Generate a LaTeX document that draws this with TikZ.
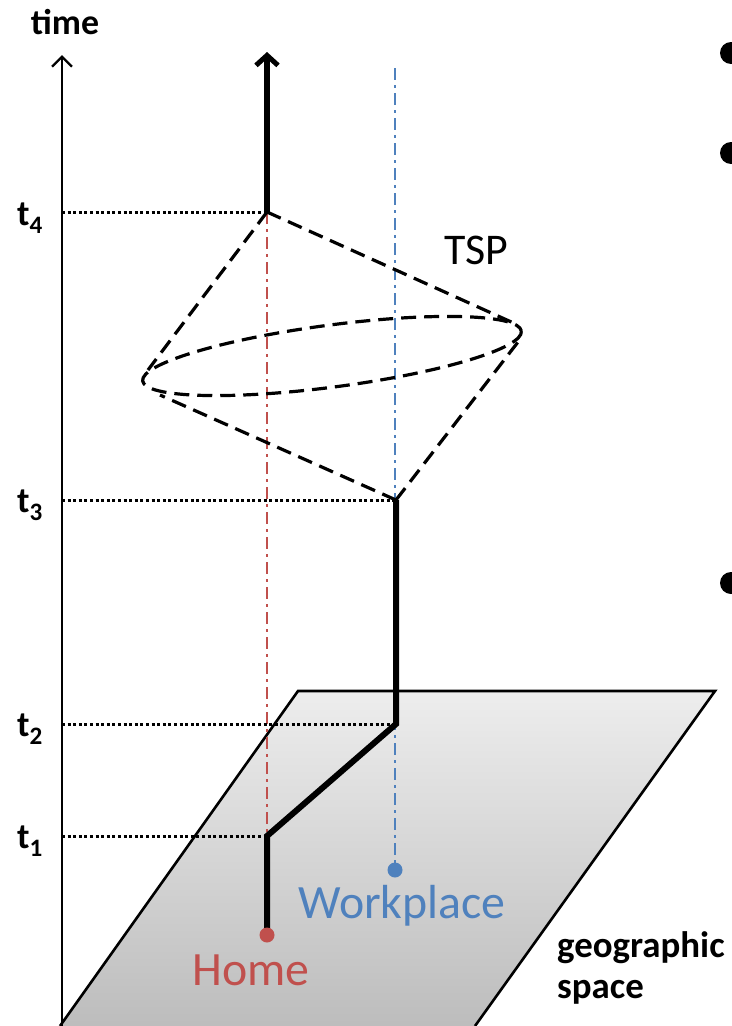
\documentclass[tikz,border=0pt]{standalone}
\usepackage{fontspec}
\setmainfont{Carlito}
\usetikzlibrary{arrows.meta}
\definecolor{homered}{HTML}{C0504D}
\definecolor{workblue}{HTML}{4F81BD}
\tikzset{
  fs/.style={font=\fontsize{#1}{#1}\selectfont},
  bfs/.style={font=\bfseries\fontsize{#1}{#1}\selectfont},
  dotline/.style={line width=3bp, dash pattern=on 3bp off 2.6bp},
  conedash/.style={line width=3.2bp, dash pattern=on 15bp off 8bp},
  homeline/.style={homered, line width=2.6bp, dash pattern=on 12bp off 5bp on 3bp off 5bp},
  workline/.style={workblue, line width=2.6bp, dash pattern=on 12bp off 5bp on 3bp off 5bp},
  pathline/.style={line width=6bp, line join=miter},
  bullet/.style={circle, fill=black, inner sep=0pt, minimum size=22bp},
}
\begin{document}
\begin{tikzpicture}[x=1bp, y=-1bp]
\useasboundingbox (0,0) rectangle (732,1026);
% geographic plane
\coordinate (pTL) at (298,691);
\coordinate (pTR) at (715,691);
\coordinate (pBR) at (475,1026);
\coordinate (pBL) at (60,1026);
\shade[top color=black!7, bottom color=black!26] (pTL) -- (pTR) -- (pBR) -- (pBL) -- cycle;
\draw[line width=2.6bp, line join=miter] (pBL) -- (pTL) -- (pTR) -- (pBR);
% time axis
\coordinate (axB) at (62,1026);
\coordinate (axT) at (62,55);
\draw[line width=2.4bp, -{Straight Barb[length=10bp, width=20bp, line width=2.4bp]}] (axB) -- (axT);
\node[bfs=36] (time) at (65,22) {time};
% key points
\coordinate (home) at (267,935);
\coordinate (t1p) at (267,836);
\coordinate (t2p) at (396,724);
\coordinate (t3p) at (396,500);
\coordinate (t4p) at (267,212);
\coordinate (arrT) at (267,52);
\coordinate (work) at (395,870);
\coordinate (workT) at (395,68);
% dash-dot verticals
\draw[homeline] (t4p) -- (t1p);
\draw[workline] (workT) -- (work);
% time ticks
\node[bfs=36] (t4) at (30,218) {t\textsubscript{4}};
\node[bfs=36] (t3) at (30,505) {t\textsubscript{3}};
\node[bfs=36] (t2) at (30,729) {t\textsubscript{2}};
\node[bfs=36] (t1) at (30,841) {t\textsubscript{1}};
\coordinate (a4) at (62,212);
\coordinate (a3) at (62,500);
\coordinate (a2) at (62,724);
\coordinate (a1) at (62,836);
\draw[dotline] (a4) -- (t4p);
\draw[dotline] (a3) -- (t3p);
\draw[dotline] (a2) -- (t2p);
\draw[dotline] (a1) -- (t1p);
% TSP prism
\coordinate (eC) at (332,356);
\coordinate (eLt) at (148,370);
\coordinate (eRt) at (518,325);
\coordinate (eLb) at (160,395);
\coordinate (eRb) at (518,342);
\draw[conedash] (eC) ellipse [x radius=191, y radius=31, rotate=7.5];
\draw[conedash] (t4p) -- (eLt);
\draw[conedash] (t4p) -- (eRt);
\draw[conedash] (t3p) -- (eLb);
\draw[conedash] (t3p) -- (eRb);
\node[fs=44] (tsp) at (476,250) {TSP};
% space-time path
\draw[pathline] (home) -- (t1p) -- (t2p) -- (t3p);
\draw[pathline, -{Straight Barb[length=10bp, width=22bp, line width=5bp]}] (t4p) -- (arrT);
% places
\node[circle, fill=homered, inner sep=0pt, minimum size=15bp] (homedot) at (home) {};
\node[circle, fill=workblue, inner sep=0pt, minimum size=15bp] (workdot) at (work) {};
\node[fs=48, text=homered] (homel) at (251,970) {Home};
\node[fs=48, text=workblue] (workl) at (402,906) {Workplace};
\node[align=left, anchor=north west, inner sep=0pt, font=\bfseries\fontsize{37}{42}\selectfont] (geo) at (557,931) {geographic\\space};
% bullets
\node[bullet] (b1) at (731,53) {};
\node[bullet] (b2) at (731,153) {};
\node[bullet] (b3) at (731,583) {};
\end{tikzpicture}
\end{document}
